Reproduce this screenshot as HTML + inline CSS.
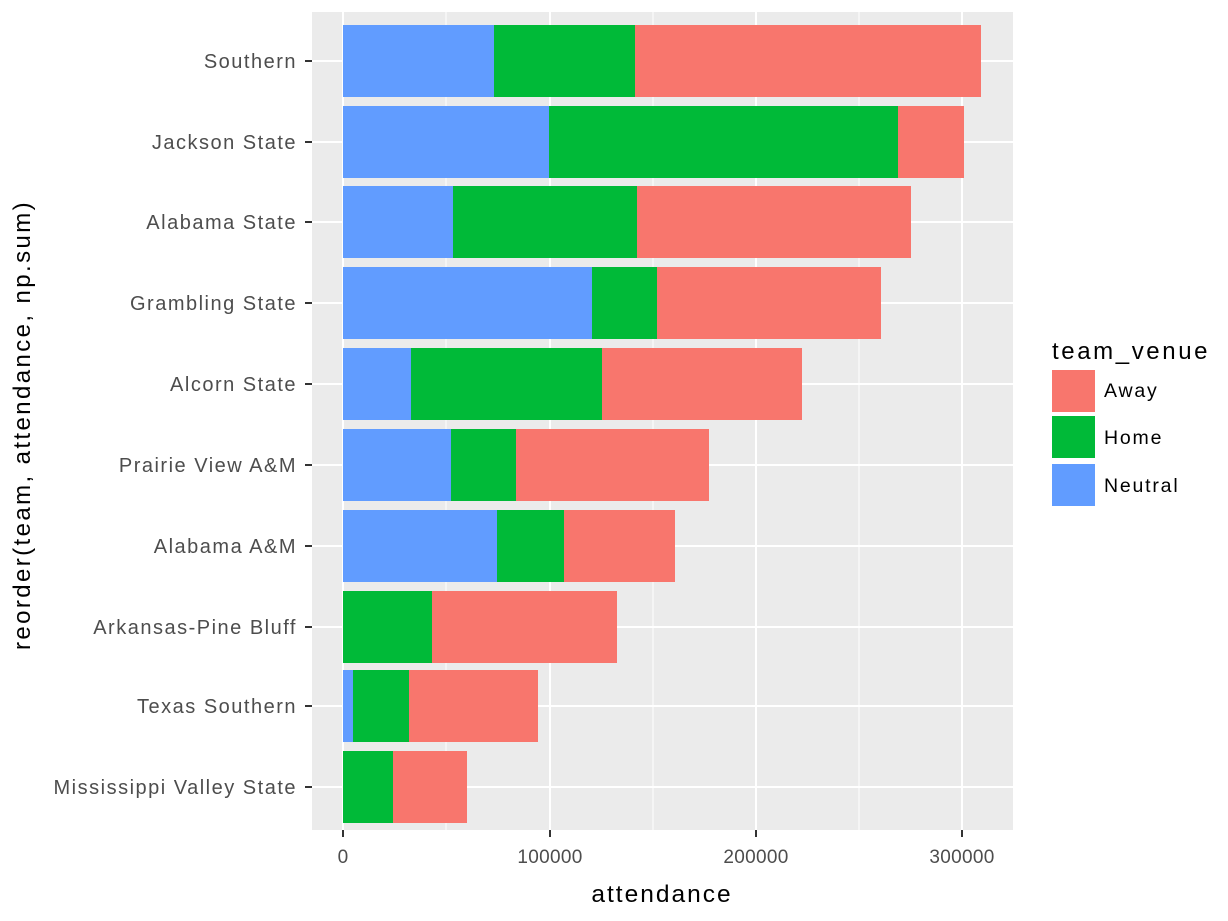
<!DOCTYPE html>
<html><head><style>body{margin:0;background:#fff}svg{display:block;font-family:"Liberation Sans",Arial,sans-serif}</style></head>
<body>
<svg width="1228" height="921" viewBox="0 0 1228 921">
<rect x="312" y="12" width="701" height="818" fill="#EBEBEB"/>
<g stroke="#fff" stroke-width="1">
<line x1="446" y1="12" x2="446" y2="830"/><line x1="653" y1="12" x2="653" y2="830"/><line x1="859" y1="12" x2="859" y2="830"/>
</g>
<g stroke="#fff" stroke-width="2">
<line x1="343" y1="12" x2="343" y2="830"/><line x1="550" y1="12" x2="550" y2="830"/><line x1="756" y1="12" x2="756" y2="830"/><line x1="962" y1="12" x2="962" y2="830"/>
<line x1="312" y1="61" x2="1013" y2="61"/><line x1="312" y1="142" x2="1013" y2="142"/><line x1="312" y1="222" x2="1013" y2="222"/><line x1="312" y1="303" x2="1013" y2="303"/><line x1="312" y1="384" x2="1013" y2="384"/><line x1="312" y1="465" x2="1013" y2="465"/><line x1="312" y1="546" x2="1013" y2="546"/><line x1="312" y1="627" x2="1013" y2="627"/><line x1="312" y1="706" x2="1013" y2="706"/><line x1="312" y1="787" x2="1013" y2="787"/>
</g>
<g>
<rect x="343" y="25" width="151" height="72" fill="#619CFF"/><rect x="494" y="25" width="141" height="72" fill="#00BA38"/><rect x="635" y="25" width="346" height="72" fill="#F8766D"/>
<rect x="343" y="106" width="206" height="72" fill="#619CFF"/><rect x="549" y="106" width="349" height="72" fill="#00BA38"/><rect x="898" y="106" width="66" height="72" fill="#F8766D"/>
<rect x="343" y="186" width="110" height="72" fill="#619CFF"/><rect x="453" y="186" width="184" height="72" fill="#00BA38"/><rect x="637" y="186" width="274" height="72" fill="#F8766D"/>
<rect x="343" y="267" width="249" height="72" fill="#619CFF"/><rect x="592" y="267" width="65" height="72" fill="#00BA38"/><rect x="657" y="267" width="224" height="72" fill="#F8766D"/>
<rect x="343" y="348" width="68" height="72" fill="#619CFF"/><rect x="411" y="348" width="191" height="72" fill="#00BA38"/><rect x="602" y="348" width="200" height="72" fill="#F8766D"/>
<rect x="343" y="429" width="108" height="72" fill="#619CFF"/><rect x="451" y="429" width="65" height="72" fill="#00BA38"/><rect x="516" y="429" width="193" height="72" fill="#F8766D"/>
<rect x="343" y="510" width="154" height="72" fill="#619CFF"/><rect x="497" y="510" width="67" height="72" fill="#00BA38"/><rect x="564" y="510" width="111" height="72" fill="#F8766D"/>
<rect x="343" y="591" width="89" height="72" fill="#00BA38"/><rect x="432" y="591" width="185" height="72" fill="#F8766D"/>
<rect x="343" y="670" width="10" height="72" fill="#619CFF"/><rect x="353" y="670" width="56" height="72" fill="#00BA38"/><rect x="409" y="670" width="129" height="72" fill="#F8766D"/>
<rect x="343" y="751" width="50" height="72" fill="#00BA38"/><rect x="393" y="751" width="74" height="72" fill="#F8766D"/>
</g>
<g stroke="#333" stroke-width="2">
<line x1="305" y1="61" x2="312" y2="61"/><line x1="305" y1="142" x2="312" y2="142"/><line x1="305" y1="222" x2="312" y2="222"/><line x1="305" y1="303" x2="312" y2="303"/><line x1="305" y1="384" x2="312" y2="384"/><line x1="305" y1="465" x2="312" y2="465"/><line x1="305" y1="546" x2="312" y2="546"/><line x1="305" y1="627" x2="312" y2="627"/><line x1="305" y1="706" x2="312" y2="706"/><line x1="305" y1="787" x2="312" y2="787"/>
<line x1="343" y1="830" x2="343" y2="837"/><line x1="550" y1="830" x2="550" y2="837"/><line x1="756" y1="830" x2="756" y2="837"/><line x1="962" y1="830" x2="962" y2="837"/>
</g>
<g fill="#4D4D4D" font-size="20" letter-spacing="1.5" text-anchor="end">
<text x="297" y="68">Southern</text><text x="297" y="149">Jackson State</text><text x="297" y="229">Alabama State</text><text x="297" y="310">Grambling State</text><text x="297" y="391">Alcorn State</text><text x="297" y="472">Prairie View A&amp;M</text><text x="297" y="553">Alabama A&amp;M</text><text x="297" y="634">Arkansas-Pine Bluff</text><text x="297" y="713">Texas Southern</text><text x="297" y="794">Mississippi Valley State</text>
</g>
<g fill="#4D4D4D" font-size="19" letter-spacing="0.3" text-anchor="middle">
<text x="343" y="863">0</text><text x="550" y="863">100000</text><text x="756" y="863">200000</text><text x="962" y="863">300000</text>
</g>
<text x="662" y="902" font-size="24.5" letter-spacing="2" text-anchor="middle" fill="#000">attendance</text>
<text transform="translate(30,425) rotate(-90)" font-size="24" letter-spacing="2.4" text-anchor="middle" fill="#000">reorder(team, attendance, np.sum)</text>
<text x="1052" y="359" font-size="24" letter-spacing="2.6" fill="#000">team_venue</text>
<rect x="1052" y="370" width="43" height="42" fill="#F8766D"/>
<rect x="1052" y="416" width="43" height="42" fill="#00BA38"/>
<rect x="1052" y="464" width="43" height="42" fill="#619CFF"/>
<g font-size="19.5" letter-spacing="1.8" fill="#000"><text x="1104" y="397">Away</text><text x="1104" y="444">Home</text><text x="1104" y="492">Neutral</text></g>
</svg>
</body></html>
